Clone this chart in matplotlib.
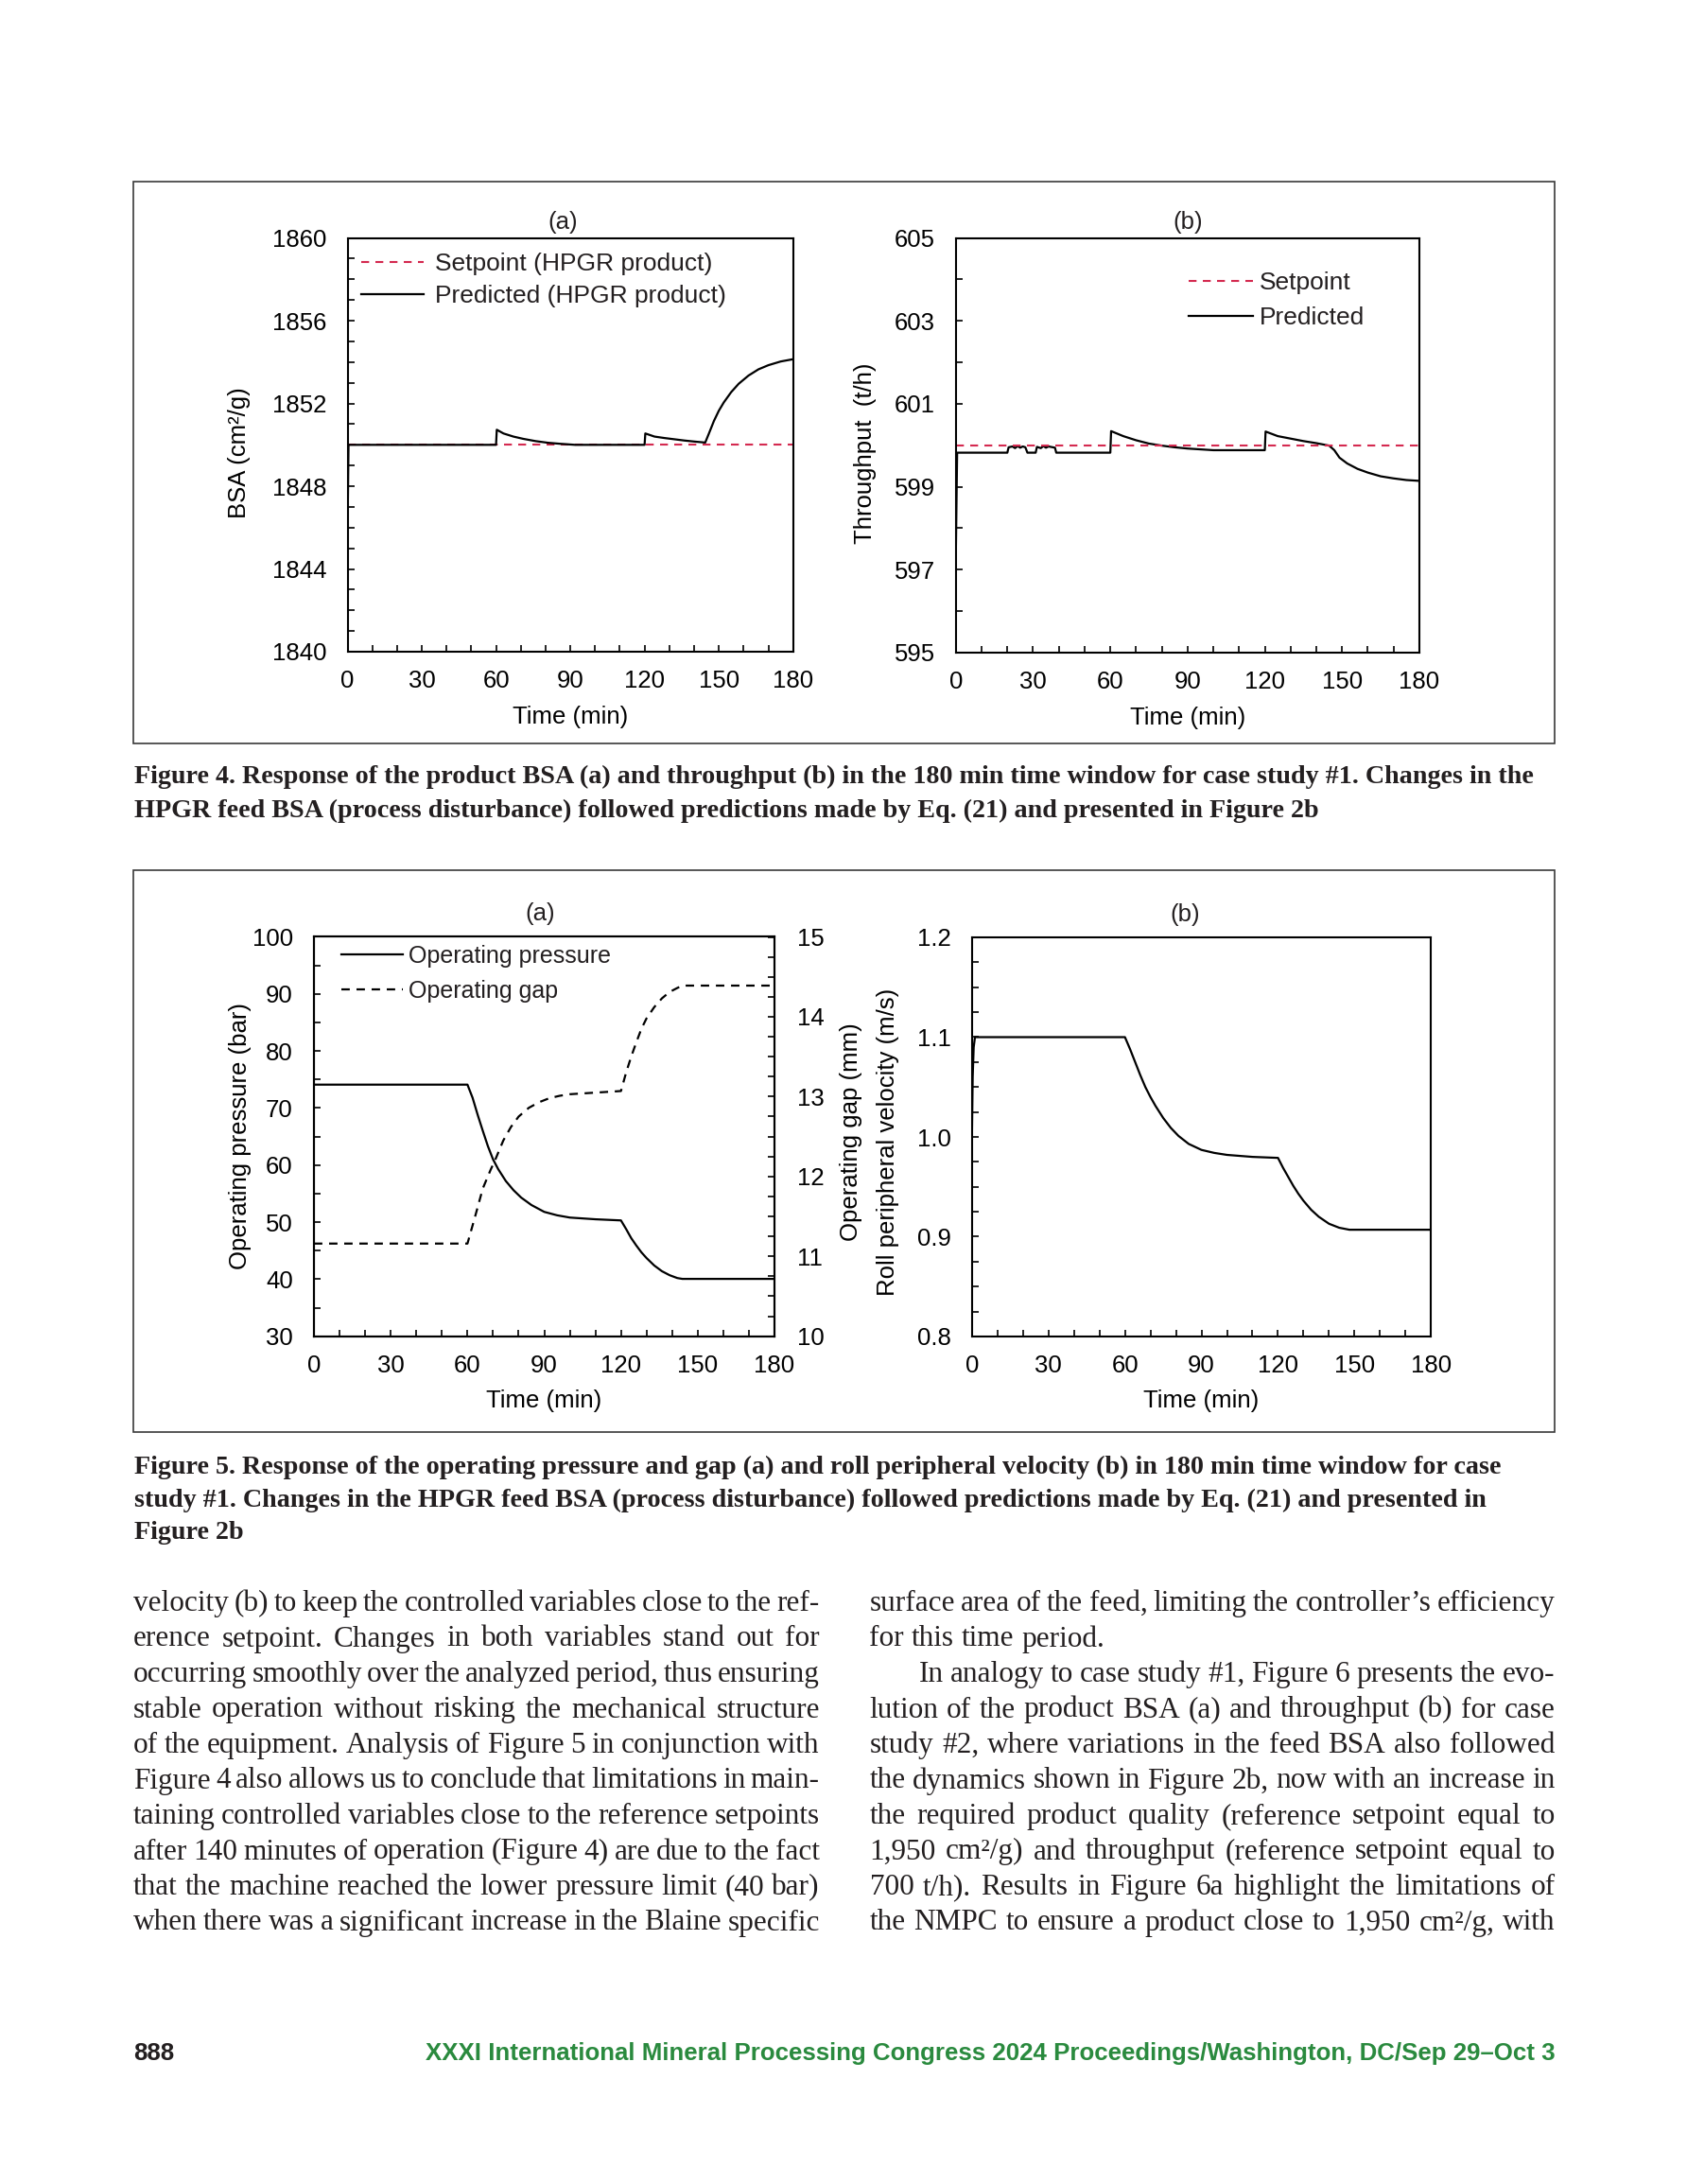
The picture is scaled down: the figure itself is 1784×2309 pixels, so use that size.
import matplotlib

matplotlib.use("Agg")
import matplotlib.pyplot as plt
from matplotlib.font_manager import FontProperties, fontManager
from matplotlib.patches import Rectangle
from matplotlib.ticker import FormatStrFormatter, MultipleLocator

W, H = 1784, 2309
DPI = 100
INK = "#231f20"
RED = "#d42a50"
GREEN = "#2a8a3e"

# ---- Figure 4a: product BSA ----
T_SP4A = [0, 180]
BSA_SP = [1850, 1850]
T_4A = [0, 0.4, 60, 60.3, 63, 67, 71, 76, 81, 86, 92, 120, 120.3, 124, 128, 132, 136, 140,
        144.5, 146, 148, 150, 152, 155, 158, 162, 166, 170, 175, 180]
BSA_PRED = [1845.8, 1850.0, 1850.0, 1850.73, 1850.55, 1850.4, 1850.29, 1850.18, 1850.1, 1850.05,
            1850.0, 1850.0, 1850.55, 1850.4, 1850.33, 1850.27, 1850.21, 1850.16, 1850.11, 1850.55,
            1851.15, 1851.65, 1852.05, 1852.55, 1852.95, 1853.35, 1853.65, 1853.85, 1854.03, 1854.14]

# ---- Figure 4b: throughput ----
T_SP4B = [0, 180]
TPH_SP = [600, 600]
TPH_TICKS = [595, 597, 599, 601, 603, 605]
T_4B = [0, 0.5, 20, 20.5, 22, 23, 24, 25, 26, 27, 27.8, 31, 31.5, 33, 34, 35, 36, 38.5, 39, 60,
        60.3, 65, 70, 75, 80, 85, 90, 95, 100, 120, 120.3, 125, 130, 135, 140, 145, 147, 149,
        152, 156, 160, 165, 170, 175, 180]
TPH_PRED = [597.4, 599.82, 599.82, 599.95, 599.97, 599.93, 599.98, 599.94, 599.97, 599.95, 599.82,
            599.82, 599.96, 599.93, 599.98, 599.94, 599.97, 599.94, 599.82, 599.82, 600.34, 600.22,
            600.12, 600.04, 599.99, 599.95, 599.92, 599.9, 599.88, 599.88, 600.33, 600.22, 600.16,
            600.1, 600.05, 599.99, 599.88, 599.7, 599.56, 599.43, 599.34, 599.25, 599.2, 599.16,
            599.14]

# ---- Figure 5a: operating pressure and gap ----
T_P = [0, 60, 62, 64, 66, 68, 70, 72, 75, 78, 81, 85, 90, 95, 100, 110, 120, 122, 124, 126, 128,
       130, 133, 136, 139, 142, 144, 180]
PRESSURE = [74.1, 74.1, 71.8, 68.8, 66.0, 63.3, 61.0, 59.3, 57.2, 55.6, 54.3, 53.0, 51.8, 51.2,
            50.8, 50.5, 50.3, 48.8, 47.2, 45.9, 44.7, 43.7, 42.4, 41.4, 40.7, 40.2, 40.05, 40.05]
T_G = [0, 60, 63, 66, 69, 71, 74, 77, 80, 84, 88, 92, 96, 100, 110, 120, 122, 124, 126, 128, 130,
       133, 136, 139, 142, 144, 180]
GAP = [11.16, 11.16, 11.5, 11.85, 12.08, 12.22, 12.45, 12.62, 12.75, 12.86, 12.93, 12.98, 13.01,
       13.03, 13.05, 13.07, 13.3, 13.5, 13.68, 13.85, 13.98, 14.12, 14.23, 14.31, 14.36, 14.39,
       14.39]

# ---- Figure 5b: roll peripheral velocity ----
T_V = [0, 0.3, 0.7, 1.2, 60, 62, 64, 66, 68, 70, 72, 75, 78, 81, 85, 90, 95, 100, 110, 120, 122,
       124, 126, 128, 130, 133, 136, 140, 144, 148, 180]
VELOCITY = [1.0, 1.06, 1.09, 1.1, 1.1, 1.088, 1.075, 1.062, 1.05, 1.04, 1.031, 1.019, 1.009, 1.001,
            0.993, 0.987, 0.984, 0.982, 0.98, 0.979, 0.969, 0.96, 0.951, 0.943, 0.936, 0.927, 0.92,
            0.913, 0.909, 0.907, 0.907]

CAPTION4 = [
    "Figure 4. Response of the product BSA (a) and throughput (b) in the 180 min time window for case study #1. Changes in the",
    "HPGR feed BSA (process disturbance) followed predictions made by Eq. (21) and presented in Figure 2b",
]
CAPTION5 = [
    "Figure 5. Response of the operating pressure and gap (a) and roll peripheral velocity (b) in 180 min time window for case",
    "study #1. Changes in the HPGR feed BSA (process disturbance) followed predictions made by Eq. (21) and presented in",
    "Figure 2b",
]
LEFT_COL = [
    "velocity (b) to keep the controlled variables close to the ref-",
    "erence setpoint. Changes in both variables stand out for",
    "occurring smoothly over the analyzed period, thus ensuring",
    "stable operation without risking the mechanical structure",
    "of the equipment. Analysis of Figure 5 in conjunction with",
    "Figure 4 also allows us to conclude that limitations in main-",
    "taining controlled variables close to the reference setpoints",
    "after 140 minutes of operation (Figure 4) are due to the fact",
    "that the machine reached the lower pressure limit (40 bar)",
    "when there was a significant increase in the Blaine specific",
]
RIGHT_COL = [
    "surface area of the feed, limiting the controller\u2019s efficiency",
    "for this time period.",
    "In analogy to case study #1, Figure 6 presents the evo-",
    "lution of the product BSA (a) and throughput (b) for case",
    "study #2, where variations in the feed BSA also followed",
    "the dynamics shown in Figure 2b, now with an increase in",
    "the required product quality (reference setpoint equal to",
    "1,950 cm\u00b2/g) and throughput (reference setpoint equal to",
    "700 t/h). Results in Figure 6a highlight the limitations of",
    "the NMPC to ensure a product close to 1,950 cm\u00b2/g, with",
]
FOOTER_PAGE = "888"
FOOTER_TEXT = "XXXI International Mineral Processing Congress 2024 Proceedings/Washington, DC/Sep 29\u2013Oct 3"

plt.rcParams["font.family"] = ["Liberation Sans", "DejaVu Sans"]
plt.rcParams["text.color"] = INK

TICK_FS = 18.5
LABEL_FS = 18.5


def fx(x):
    return x / W


def fy(y):
    return 1 - y / H


def axes_px(fig, left, top, right, bottom):
    return fig.add_axes([fx(left), fy(bottom), (right - left) / W, (bottom - top) / H])


def style_axes(ax, ymaj, ymin):
    for spine in ax.spines.values():
        spine.set_linewidth(1.5)
        spine.set_color("black")
    ax.set_xlim(0, 180)
    ax.xaxis.set_major_locator(MultipleLocator(30))
    ax.xaxis.set_minor_locator(MultipleLocator(10))
    ax.yaxis.set_major_locator(MultipleLocator(ymaj))
    ax.yaxis.set_minor_locator(MultipleLocator(ymin))
    ax.tick_params(which="both", direction="in", length=5, width=1.2, top=False, right=False,
                   labelsize=TICK_FS, colors="black")
    ax.tick_params(axis="x", which="both", pad=14)
    ax.tick_params(axis="y", which="both", pad=16)


def panel_title(ax, text, xf, yf):
    ax.text(xf, yf, text, transform=ax.transAxes, ha="center", va="center", fontsize=LABEL_FS)


def ylabel_at(ax, text, xf, yf, axis=None):
    axis = axis or ax.yaxis
    axis.set_label_text(text, fontsize=LABEL_FS)
    axis.set_label_coords(xf, yf)
    axis.label.set_va("center")
    axis.label.set_ha("center")


def text_width(renderer, s, prop):
    return renderer.get_text_width_height_descent(s, prop, ismath=False)[0]


def draw_column(fig, renderer, lines, x0, x1, y0, step, fs, plain=(), indents=None):
    prop = FontProperties(family="Liberation Serif", size=fs)
    space = text_width(renderer, "a a", prop) - text_width(renderer, "aa", prop)
    indents = indents or {}
    for i, line in enumerate(lines):
        words = line.split(" ")
        widths = [text_width(renderer, w, prop) for w in words]
        left = x0 + indents.get(i, 0)
        if i in plain or len(words) == 1:
            gap = space
        else:
            gap = (x1 - left - sum(widths)) / (len(words) - 1)
        x = left
        y = y0 + i * step
        for w, wd in zip(words, widths):
            fig.text(fx(x), fy(y), w, fontproperties=prop, color=INK, ha="left", va="baseline")
            x += wd + gap


def body_size(renderer, columns, base=22.0, cap=22.5, min_gap=0.18):
    # largest size for which every justified line still keeps a small word gap
    prop = FontProperties(family="Liberation Serif", size=base)
    px = base * DPI / 72
    best = cap
    for lines, width, plain, indents in columns:
        for i, line in enumerate(lines):
            if i in plain:
                continue
            words = line.split(" ")
            need = sum(text_width(renderer, w, prop) for w in words) + (len(words) - 1) * min_gap * px
            best = min(best, base * (width - indents.get(i, 0)) / need)
    return best


def fit_size(renderer, s, family, weight, target, base=20.0):
    prop = FontProperties(family=family, weight=weight, size=base)
    return base * target / text_width(renderer, s, prop)


fig = plt.figure(figsize=(W / DPI, H / DPI), dpi=DPI)
renderer = fig.canvas.get_renderer()

# frames around the two figures
for top, bottom in [(192, 786), (920, 1514)]:
    fig.patches.append(Rectangle((fx(141), fy(bottom)), (1644 - 141) / W, (bottom - top) / H,
                                 transform=fig.transFigure, fill=False, lw=1.2, ec="#3a3a3a"))

# ---- Figure 4a ----
ax = axes_px(fig, 367.5, 251.6, 838.7, 689.0)
style_axes(ax, 4, 1)
ax.set_ylim(1840, 1860)
h_sp, = ax.plot(T_SP4A, BSA_SP, color=RED, lw=1.5, dashes=(4, 3.2), label="Setpoint (HPGR product)")
h_pr, = ax.plot(T_4A, BSA_PRED, color="black", lw=1.6, label="Predicted (HPGR product)")
ax.legend(handles=[h_sp, h_pr], loc="upper left", bbox_to_anchor=(0.031, 0.965), borderaxespad=0,
          borderpad=0, frameon=False, fontsize=19, handlelength=2.5, handletextpad=0.45,
          labelspacing=0.4)
ax.set_xlabel("Time (min)", fontsize=LABEL_FS, labelpad=10)
ylabel_at(ax, "BSA (cm\u00b2/g)", -0.242, 0.481)
panel_title(ax, "(a)", 0.483, 1.037)

# ---- Figure 4b ----
ax = axes_px(fig, 1010.8, 251.6, 1500.9, 689.8)
style_axes(ax, 2, 1)
ax.set_ylim(595, 605)
ax.set_yticks(TPH_TICKS)
h_pr, = ax.plot(T_4B, TPH_PRED, color="black", lw=1.6, label="Predicted")
h_sp, = ax.plot(T_SP4B, TPH_SP, color=RED, lw=1.5, dashes=(4, 3.2), label="Setpoint")
ax.legend(handles=[h_sp, h_pr], loc="upper left", bbox_to_anchor=(0.502, 0.919), borderaxespad=0,
          borderpad=0, frameon=False, fontsize=19, handlelength=2.6, handletextpad=0.25,
          labelspacing=0.48)
ax.set_xlabel("Time (min)", fontsize=LABEL_FS, labelpad=10)
ylabel_at(ax, "Throughput  (t/h)", -0.196, 0.481)
panel_title(ax, "(b)", 0.5, 1.037)

# ---- Figure 5a ----
ax = axes_px(fig, 332.0, 990.5, 819.0, 1412.7)
style_axes(ax, 10, 5)
ax.set_ylim(30, 100)
ax2 = ax.twinx()
ax2.set_ylim(10, 15)
ax2.yaxis.set_major_locator(MultipleLocator(1))
ax2.yaxis.set_minor_locator(MultipleLocator(0.25))
ax2.tick_params(which="both", direction="in", length=5, width=1.2, left=False, right=True,
                labelsize=TICK_FS, pad=17, colors="black")
for spine in ax2.spines.values():
    spine.set_linewidth(1.5)
h_p, = ax.plot(T_P, PRESSURE, color="black", lw=1.6, label="Operating pressure")
h_g, = ax2.plot(T_G, GAP, color="black", lw=1.6, dashes=(4, 3.2), label="Operating gap")
ax2.legend(handles=[h_p, h_g], loc="upper left", bbox_to_anchor=(0.0595, 0.98), borderaxespad=0,
           borderpad=0, frameon=False, fontsize=18, handlelength=2.6, handletextpad=0.25,
           labelspacing=0.53)
ax.set_xlabel("Time (min)", fontsize=LABEL_FS, labelpad=9)
ylabel_at(ax, "Operating pressure (bar)", -0.161, 0.502)
ylabel_at(ax2, "Operating gap (mm)", 1.166, 0.511, axis=ax2.yaxis)
ax2.yaxis.label.set_rotation(90)
panel_title(ax, "(a)", 0.491, 1.057)

# ---- Figure 5b ----
ax = axes_px(fig, 1027.8, 991.0, 1513.3, 1413.0)
style_axes(ax, 0.1, 0.025)
ax.set_ylim(0.8, 1.2)
ax.yaxis.set_major_formatter(FormatStrFormatter("%.1f"))
ax.plot(T_V, VELOCITY, color="black", lw=1.6)
ax.set_xlabel("Time (min)", fontsize=LABEL_FS, labelpad=9)
ylabel_at(ax, "Roll peripheral velocity (m/s)", -0.1835, 0.4865)
panel_title(ax, "(b)", 0.464, 1.057)

# ---- captions ----
cap_fs = fit_size(renderer, CAPTION4[0], "Liberation Serif", "bold", 1623 - 141.5)
for lines, baselines in [(CAPTION4, [828, 864]), (CAPTION5, [1558, 1593, 1627])]:
    for line, yb in zip(lines, baselines):
        fig.text(fx(141.5), fy(yb), line, family="Liberation Serif", weight="bold", fontsize=cap_fs,
                 color=INK, ha="left", va="baseline")

# ---- body text (two justified columns) ----
LEFT_X = (141.0, 866.8)
RIGHT_X = (919.5, 1644.5)
body_fs = body_size(renderer, [(LEFT_COL, LEFT_X[1] - LEFT_X[0], (), {}),
                               (RIGHT_COL, RIGHT_X[1] - RIGHT_X[0], (1,), {2: 52})])
draw_column(fig, renderer, LEFT_COL, LEFT_X[0], LEFT_X[1], 1703.0, 37.5, body_fs)
draw_column(fig, renderer, RIGHT_COL, RIGHT_X[0], RIGHT_X[1], 1703.0, 37.5, body_fs, plain=(1,),
            indents={2: 52})

# ---- footer ----
names = {f.name for f in fontManager.ttflist}
foot_family = "Liberation Sans Narrow" if "Liberation Sans Narrow" in names else "Liberation Sans"
foot_fs = fit_size(renderer, FOOTER_TEXT, foot_family, "bold", 1645 - 452)
fig.text(fx(141), fy(2178), FOOTER_PAGE, family=foot_family, weight="bold", fontsize=foot_fs,
         color=INK, ha="left", va="baseline")
fig.text(fx(1645), fy(2178), FOOTER_TEXT, family=foot_family, weight="bold", fontsize=foot_fs,
         color=GREEN, ha="right", va="baseline")

fig.savefig("out.png", dpi=DPI, facecolor="white")
